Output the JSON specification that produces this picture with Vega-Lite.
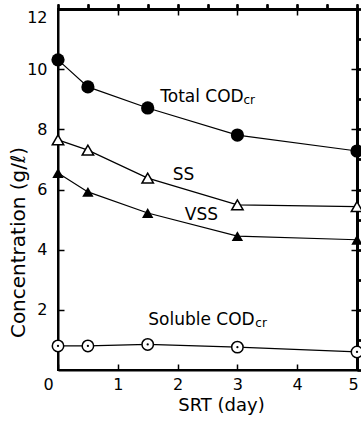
{
  "$schema": "https://vega.github.io/schema/vega-lite/v6.json",
  "width": 299,
  "height": 361,
  "autosize": "none",
  "padding": {"left": 58, "top": 9, "right": 4, "bottom": 56},
  "background": "white",
  "config": {
    "view": {"stroke": "black", "strokeWidth": 2},
    "font": "DejaVu Sans",
    "axis": {"grid": false, "domainColor": "black", "domainWidth": 2, "tickColor": "black", "tickWidth": 1.5, "labelColor": "black", "titleColor": "black", "labelFont": "DejaVu Sans", "titleFont": "DejaVu Sans", "labelFontSize": 16, "titleFontSize": 18, "titleFontWeight": "normal"}
  },
  "datasets": {
    "pts": [
      {"series": "Total", "srt": 0, "conc": 10.31},
      {"series": "Total", "srt": 0.5, "conc": 9.41},
      {"series": "Total", "srt": 1.5, "conc": 8.71},
      {"series": "Total", "srt": 3, "conc": 7.81},
      {"series": "Total", "srt": 5, "conc": 7.28},
      {"series": "SS", "srt": 0, "conc": 7.65},
      {"series": "SS", "srt": 0.5, "conc": 7.31},
      {"series": "SS", "srt": 1.5, "conc": 6.38},
      {"series": "SS", "srt": 3, "conc": 5.49},
      {"series": "SS", "srt": 5, "conc": 5.43},
      {"series": "VSS", "srt": 0, "conc": 6.55},
      {"series": "VSS", "srt": 0.5, "conc": 5.92},
      {"series": "VSS", "srt": 1.5, "conc": 5.22},
      {"series": "VSS", "srt": 3, "conc": 4.45},
      {"series": "VSS", "srt": 5, "conc": 4.33},
      {"series": "Soluble", "srt": 0, "conc": 0.8},
      {"series": "Soluble", "srt": 0.5, "conc": 0.8},
      {"series": "Soluble", "srt": 1.5, "conc": 0.85},
      {"series": "Soluble", "srt": 3, "conc": 0.76},
      {"series": "Soluble", "srt": 5, "conc": 0.6}
    ],
    "labels": [
      {"part": "main", "text": "Total COD", "srt": 1.71, "conc": 9.08},
      {"part": "sub", "text": "cr", "srt": 3.1, "conc": 8.97},
      {"part": "main", "text": "SS", "srt": 1.92, "conc": 6.48},
      {"part": "main", "text": "VSS", "srt": 2.12, "conc": 5.15},
      {"part": "main", "text": "Soluble COD", "srt": 1.51, "conc": 1.66},
      {"part": "sub", "text": "cr", "srt": 3.3, "conc": 1.55}
    ]
  },
  "encoding": {
    "x": {"field": "srt", "type": "quantitative", "scale": {"domain": [0, 5], "nice": false, "zero": false}},
    "y": {"field": "conc", "type": "quantitative", "scale": {"domain": [0, 12], "nice": false}}
  },
  "layer": [
    {
      "data": {"name": "pts"},
      "mark": {"type": "line", "color": "black", "strokeWidth": 1.2},
      "encoding": {
        "x": {"field": "srt", "type": "quantitative", "axis": {"orient": "bottom", "values": [0, 1, 2, 3, 4, 5], "tickSize": -6, "labelPadding": 12, "title": "SRT (day)", "titlePadding": 4, "titleX": 163, "labelFlush": false, "labelOffset": {"condition": [{"test": "datum.value === 0", "value": -10}, {"test": "datum.value === 5", "value": -4}], "value": 0}}},
        "y": {"field": "conc", "type": "quantitative", "axis": {"orient": "left", "values": [2, 4, 6, 8, 10, 12], "tickSize": -6, "labelPadding": 17, "title": "Concentration (g/ℓ)", "titleY": 233, "titleX": -30, "titleFontSize": 20, "labelFlush": true}},
        "detail": {"field": "series"}
      }
    },
    {
      "data": {"name": "pts"},
      "transform": [{"filter": "datum.series === 'Total'"}],
      "mark": {"type": "point", "shape": "circle", "filled": true, "color": "black", "size": 175, "opacity": 1}
    },
    {
      "data": {"name": "pts"},
      "transform": [{"filter": "datum.series === 'SS'"}],
      "mark": {"type": "point", "shape": "triangle-up", "filled": true, "fill": "white", "stroke": "black", "strokeWidth": 1.5, "size": 130, "opacity": 1}
    },
    {
      "data": {"name": "pts"},
      "transform": [{"filter": "datum.series === 'VSS'"}],
      "mark": {"type": "point", "shape": "triangle-up", "filled": true, "color": "black", "size": 130, "opacity": 1}
    },
    {
      "data": {"name": "pts"},
      "transform": [{"filter": "datum.series === 'Soluble'"}],
      "mark": {"type": "point", "shape": "circle", "filled": true, "fill": "white", "stroke": "black", "strokeWidth": 1.5, "size": 130, "opacity": 1}
    },
    {
      "data": {"name": "pts"},
      "transform": [{"filter": "datum.series === 'Soluble'"}],
      "mark": {"type": "point", "shape": "circle", "filled": true, "color": "black", "size": 5, "opacity": 1}
    },
    {
      "data": {"name": "labels"},
      "transform": [{"filter": "datum.part === 'main'"}],
      "mark": {"type": "text", "align": "left", "baseline": "middle", "fontSize": 17, "font": "DejaVu Sans", "color": "black"},
      "encoding": {"text": {"field": "text"}}
    },
    {
      "data": {"name": "labels"},
      "transform": [{"filter": "datum.part === 'sub'"}],
      "mark": {"type": "text", "align": "left", "baseline": "middle", "fontSize": 12, "font": "DejaVu Sans", "color": "black"},
      "encoding": {"text": {"field": "text"}}
    },
    {
      "data": {"name": "pts"},
      "mark": {"type": "point", "opacity": 0},
      "encoding": {
        "x": {"field": "srt", "type": "quantitative", "axis": {"orient": "top", "values": [1, 2, 3, 4], "tickSize": -6, "labels": false, "title": null, "domain": false}},
        "y": {"field": "conc", "type": "quantitative", "axis": {"orient": "right", "values": [2, 4, 6, 8, 10], "tickSize": -6, "labels": false, "title": null, "domain": false}}
      }
    }
  ],
  "resolve": {"axis": {"x": "independent", "y": "independent"}}
}
